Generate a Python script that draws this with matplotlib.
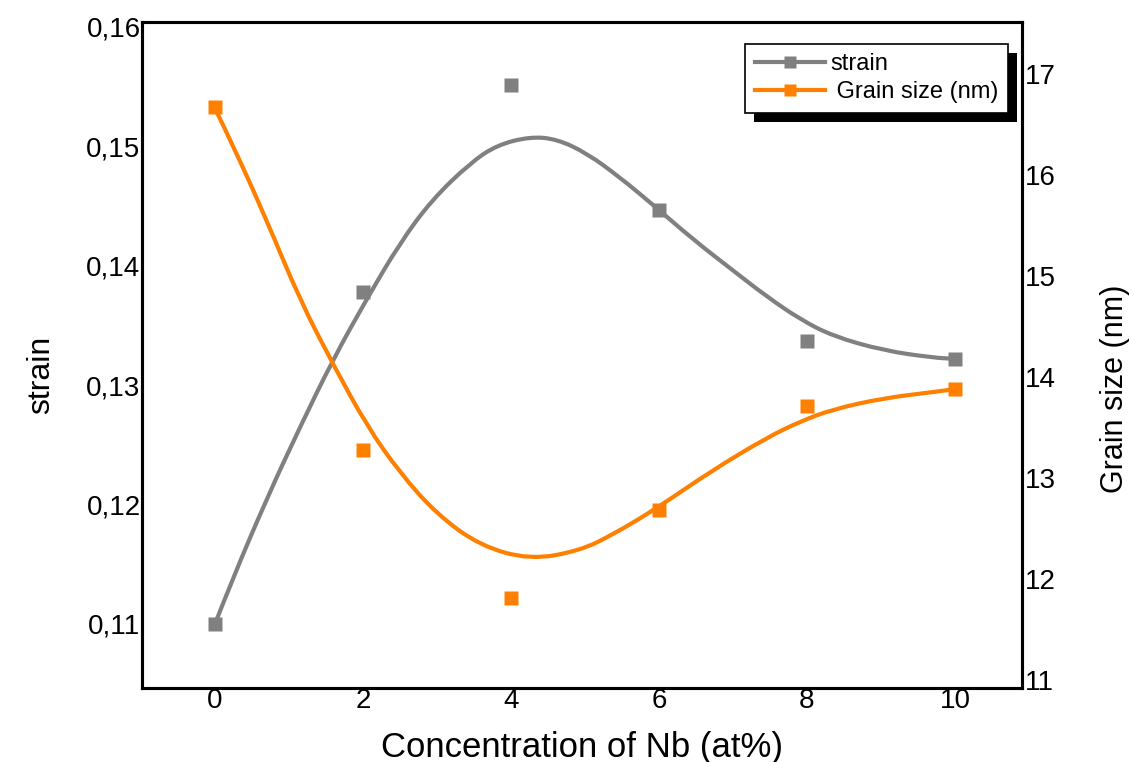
import matplotlib.pyplot as plt
from matplotlib.lines import Line2D
from matplotlib.patches import Rectangle, PathPatch
from matplotlib.path import Path
from matplotlib.transforms import IdentityTransform
from matplotlib.ticker import FuncFormatter

plt.rcParams['font.family'] = ['Liberation Sans', 'DejaVu Sans']

# measured points
nb = [0, 2, 4, 6, 8, 10]
strain = [0.1100, 0.1378, 0.1551, 0.1447, 0.1337, 0.1322]
grain = [16.67, 13.28, 11.81, 12.68, 13.71, 13.88]

# fitted curves
strain_fit_x = [0, 0.24, 0.70, 1.15, 1.60, 2.05, 2.50, 2.93, 3.45, 3.81, 4.26, 4.62,
                5.03, 5.47, 5.90, 6.46, 7.0, 7.46, 7.91, 8.35, 9.03, 9.70, 10]
strain_fit = [0.1100, 0.1138, 0.1205, 0.1265, 0.1322, 0.1372, 0.1419, 0.1455,
              0.1486, 0.1501, 0.1508, 0.1506, 0.1494, 0.1474, 0.1452, 0.1422,
              0.1396, 0.1374, 0.1355, 0.1341, 0.1329, 0.1323, 0.1322]
grain_fit_x = [0, 0.24, 0.70, 1.15, 1.60, 2.05, 2.50, 3.0, 3.58, 4.26, 4.93, 5.38,
               5.97, 6.73, 7.46, 7.91, 8.35, 9.03, 9.70, 10]
grain_fit = [16.66, 16.30, 15.55, 14.76, 14.12, 13.52, 13.05, 12.64, 12.33, 12.19,
             12.28, 12.44, 12.70, 13.08, 13.40, 13.56, 13.68, 13.79, 13.85, 13.88]

gray = '#808080'
orange = '#ff8000'


def smooth_path(xs, ys):
    # quadratic bezier through segment midpoints, so the line has no corners
    verts = [(xs[0], ys[0])]
    codes = [Path.MOVETO]
    for i in range(1, len(xs) - 1):
        verts += [(xs[i], ys[i]), ((xs[i] + xs[i + 1]) / 2, (ys[i] + ys[i + 1]) / 2)]
        codes += [Path.CURVE3, Path.CURVE3]
    verts.append((xs[-1], ys[-1]))
    codes.append(Path.LINETO)
    return Path(verts, codes)


fig = plt.figure(figsize=(11.34, 7.62), dpi=100)
ax = fig.add_axes([0.1252, 0.0971, 0.776, 0.874])
ax2 = ax.twinx()

ax.add_patch(PathPatch(smooth_path(strain_fit_x, strain_fit), facecolor='none',
                       edgecolor=gray, lw=3))
ax.plot(nb, strain, 's', color=gray, ms=10, mec='none')
ax2.add_patch(PathPatch(smooth_path(grain_fit_x, grain_fit), facecolor='none',
                        edgecolor=orange, lw=3))
ax2.plot(nb, grain, 's', color=orange, ms=10, mec='none')

ax.set_xlim(-0.986, 10.905)
ax.set_ylim(0.10464, 0.1604)
ax2.set_ylim(10.92, 17.515)
ax.set_xticks([0, 2, 4, 6, 8, 10])
ax.set_yticks([0.11, 0.12, 0.13, 0.14, 0.15, 0.16])
ax2.set_yticks([11, 12, 13, 14, 15, 16, 17])
ax.yaxis.set_major_formatter(FuncFormatter(lambda v, p: f'{v:.2f}'.replace('.', ',')))

ax.tick_params(axis='both', length=0, labelsize=20)
ax.tick_params(axis='x', pad=0)
ax.tick_params(axis='y', pad=1)
ax2.tick_params(axis='y', length=0, labelsize=20, pad=2)
for a in (ax, ax2):
    for s in a.spines.values():
        s.set_linewidth(2.2)

ax.set_xlabel('Concentration of Nb (at%)', fontsize=25, labelpad=12)
ax.set_ylabel('strain', fontsize=23, labelpad=22)
ax2.set_ylabel('Grain size (nm)', fontsize=22, labelpad=32)
ax.yaxis.label.set_y(0.47)
ax2.yaxis.label.set_y(0.45)

handles = [Line2D([], [], color=gray, lw=3, marker='s', ms=9, mec='none'),
           Line2D([], [], color=orange, lw=3, marker='s', ms=9, mec='none')]
leg = ax2.legend(handles, ['strain', ' Grain size (nm)'], loc='upper right',
                 bbox_to_anchor=(0.984, 0.967), fontsize=17, frameon=True, fancybox=False,
                 framealpha=1, handlelength=3.0, handletextpad=0.2, borderpad=0.4,
                 labelspacing=0.25, borderaxespad=0)
leg.get_frame().set_edgecolor('black')
leg.get_frame().set_facecolor('white')
leg.get_frame().set_linewidth(1.2)
leg.set_zorder(10)

# black drop shadow behind the legend box
fig.canvas.draw()
bb = leg.get_window_extent()
ax2.add_patch(Rectangle((bb.x0 + 9, bb.y0 - 9), bb.width, bb.height,
                        transform=IdentityTransform(), facecolor='black',
                        edgecolor='none', zorder=9, clip_on=False))

fig.savefig('out.png', dpi=100)
